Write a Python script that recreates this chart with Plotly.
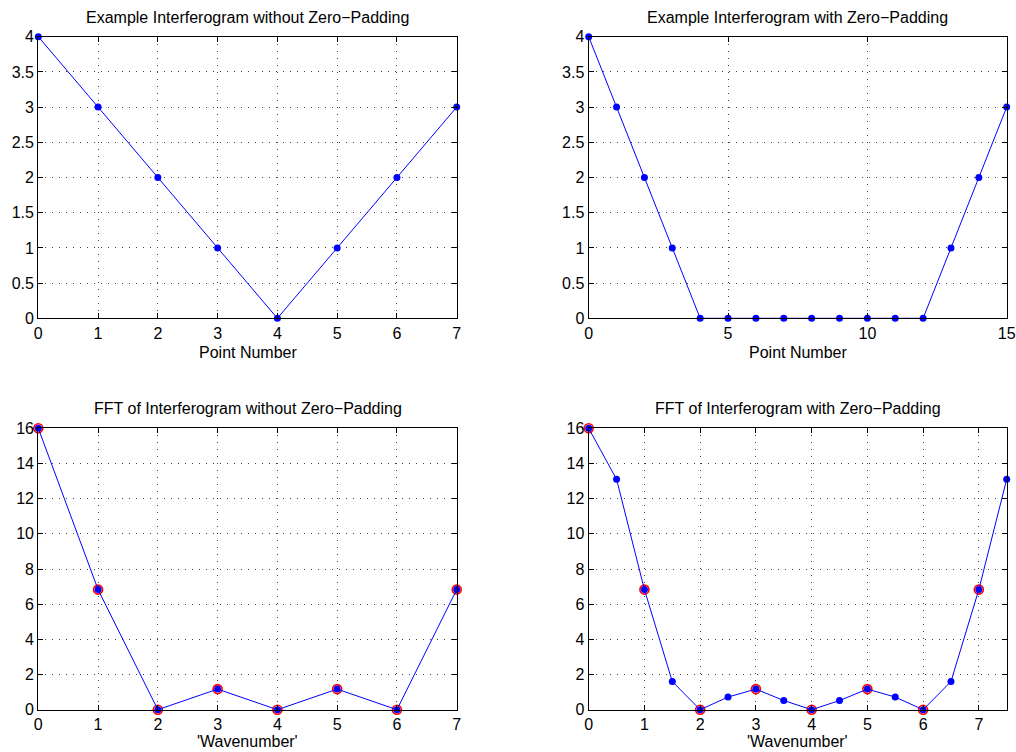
import plotly.graph_objects as go

# ---- data ----
pts_no_pad = [0, 1, 2, 3, 4, 5, 6, 7]
ifg_no_pad = [4, 3, 2, 1, 0, 1, 2, 3]

pts_pad = list(range(16))
ifg_pad = [4, 3, 2, 1, 0, 0, 0, 0, 0, 0, 0, 0, 0, 1, 2, 3]

wn_no_pad = [0, 1, 2, 3, 4, 5, 6, 7]
fft_no_pad = [16, 6.83, 0, 1.17, 0, 1.17, 0, 6.83]

wn_pad = [0, 0.5, 1, 1.5, 2, 2.5, 3, 3.5, 4, 4.5, 5, 5.5, 6, 6.5, 7, 7.5]
fft_pad = [16, 13.1, 6.83, 1.6, 0, 0.72, 1.17, 0.52, 0, 0.52, 1.17, 0.72, 0, 1.6, 6.83, 13.1]

titles = ["Example Interferogram without Zero\u2212Padding",
          "Example Interferogram with Zero\u2212Padding",
          "FFT of Interferogram without Zero\u2212Padding",
          "FFT of Interferogram with Zero\u2212Padding"]
xlabels = ["Point Number", "Point Number", "'Wavenumber'", "'Wavenumber'"]

W, H = 1016, 752
FONT = "Liberation Sans, Arial, Helvetica, sans-serif"
FS = 16
BLUE = "#0000ff"
RED = "#ff0000"

xdom_l = [38.3 / W, 456.7 / W]
xdom_r = [588.7 / W, 1006.7 / W]
ydom_t = [1 - 318.3 / H, 1 - 36.7 / H]
ydom_b = [1 - 709.7 / H, 1 - 428.3 / H]

fig = go.Figure()

def line_trace(x, y, ax):
    return go.Scatter(x=x, y=y, mode="lines+markers", xaxis="x" + ax, yaxis="y" + ax,
                      line=dict(color=BLUE, width=1),
                      marker=dict(color=BLUE, size=7, symbol="circle"),
                      cliponaxis=False, showlegend=False, hoverinfo="x+y")

def ring_trace(x, y, ax):
    return go.Scatter(x=x, y=y, mode="markers", xaxis="x" + ax, yaxis="y" + ax,
                      marker=dict(color="rgba(255,255,255,0)", size=9, symbol="circle",
                                  line=dict(color=RED, width=1.6)),
                      cliponaxis=False, showlegend=False, hoverinfo="skip")

fig.add_trace(line_trace(pts_no_pad, ifg_no_pad, ""))
fig.add_trace(line_trace(pts_pad, ifg_pad, "2"))
fig.add_trace(ring_trace(wn_no_pad, fft_no_pad, "3"))
fig.add_trace(line_trace(wn_no_pad, fft_no_pad, "3"))
fig.add_trace(ring_trace(wn_no_pad, fft_no_pad, "4"))
fig.add_trace(line_trace(wn_pad, fft_pad, "4"))

grid = dict(showgrid=True, gridcolor="#444444", griddash="1px,6px", gridwidth=1,
            zeroline=False, showline=True, linecolor="black", linewidth=1.3,
            mirror="allticks", ticks="inside", ticklen=5, tickcolor="black",
            automargin=False,
            tickfont=dict(family=FONT, size=FS, color="black"))

fig.update_layout(
    width=W, height=H,
    margin=dict(l=0, r=0, t=0, b=0, pad=0),
    paper_bgcolor="white", plot_bgcolor="white",
    font=dict(family=FONT, size=FS, color="black"),
    xaxis=dict(domain=xdom_l, anchor="y", range=[0, 7], dtick=1, tick0=0, **grid),
    yaxis=dict(domain=ydom_t, anchor="x", range=[0, 4], dtick=0.5, tick0=0, **grid),
    xaxis2=dict(domain=xdom_r, anchor="y2", range=[0, 15], dtick=5, tick0=0, **grid),
    yaxis2=dict(domain=ydom_t, anchor="x2", range=[0, 4], dtick=0.5, tick0=0, **grid),
    xaxis3=dict(domain=xdom_l, anchor="y3", range=[0, 7], dtick=1, tick0=0, **grid),
    yaxis3=dict(domain=ydom_b, anchor="x3", range=[0, 16], dtick=2, tick0=0, **grid),
    xaxis4=dict(domain=xdom_r, anchor="y4", range=[0, 7.5], dtick=1, tick0=0, **grid),
    yaxis4=dict(domain=ydom_b, anchor="x4", range=[0, 16], dtick=2, tick0=0, **grid),
)

anns = []
doms = [(xdom_l, ydom_t), (xdom_r, ydom_t), (xdom_l, ydom_b), (xdom_r, ydom_b)]
for i, ((xd, yd), t, xl) in enumerate(zip(doms, titles, xlabels)):
    xc = (xd[0] + xd[1]) / 2
    anns.append(dict(text=t, x=xc, y=yd[1] + 9 / H, xref="paper", yref="paper",
                     xanchor="center", yanchor="bottom", showarrow=False,
                     font=dict(family=FONT, size=FS, color="black")))
    if i < 2:
        anns.append(dict(text=xl, x=xc, y=yd[0] - 24 / H, xref="paper", yref="paper",
                         xanchor="center", yanchor="top", showarrow=False,
                         font=dict(family=FONT, size=FS, color="black")))
    else:
        anns.append(dict(text=xl, x=xc, y=0, xref="paper", yref="paper",
                         xanchor="center", yanchor="bottom", showarrow=False,
                         font=dict(family=FONT, size=FS, color="black")))
fig.update_layout(annotations=anns)

fig.write_html("out.html", config={"displayModeBar": False},
               post_script="document.body.style.margin='0';document.body.style.overflow='hidden';")
